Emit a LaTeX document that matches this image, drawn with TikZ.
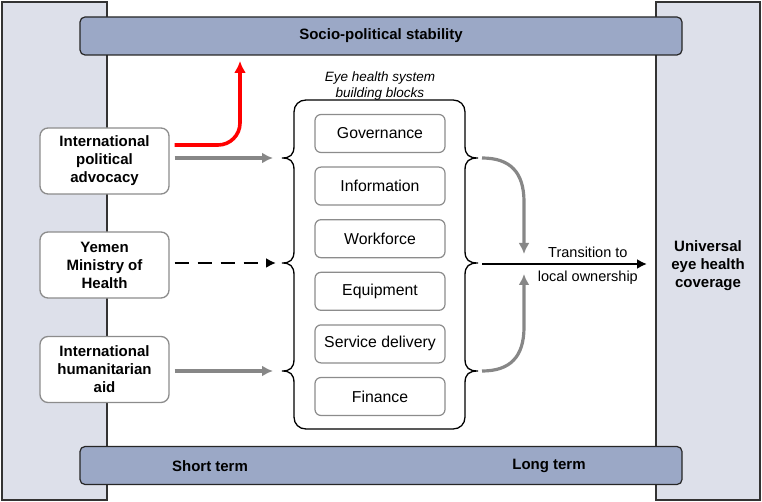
\documentclass[tikz,border=0pt]{standalone}
\usepackage{fontspec}
\setmainfont{Liberation Sans}
\usetikzlibrary{positioning,arrows.meta}
\definecolor{panelgray}{RGB}{221,224,234}
\definecolor{barblue}{RGB}{155,168,198}
\definecolor{boxgray}{RGB}{140,140,140}
\definecolor{arrowgray}{RGB}{135,135,135}
\tikzset{
  panel/.style={draw=black!80, line width=1.2pt, fill=panelgray},
  bar/.style={draw=black!85, line width=1.2pt, fill=barblue, rounded corners=5pt,
    minimum width=602pt, minimum height=38pt, font=\fontsize{15}{18}\selectfont\bfseries},
  actor/.style={draw=boxgray, line width=1.3pt, fill=white, rounded corners=8pt,
    minimum width=129pt, minimum height=66pt, inner sep=0pt, align=center,
    font=\fontsize{15}{18}\selectfont\bfseries},
  block/.style={draw=boxgray, line width=1.2pt, fill=white, rounded corners=6pt,
    minimum width=130pt, minimum height=38pt, inner sep=0pt,
    font=\fontsize{15.8}{18}\selectfont},
  grayarrow/.style={draw=arrowgray, line width=3.2pt, -{Latex[length=11pt,width=11pt]}},
  redarrow/.style={draw=red, line width=3.6pt, rounded corners=22pt, -{Latex[length=12pt,width=12pt]}},
  blackarrow/.style={draw=black, line width=2.8pt, -{Latex[length=10pt,width=10pt]}},
}
\begin{document}
\begin{tikzpicture}[x=1pt,y=-1pt]
  \useasboundingbox (0,0) rectangle (762,502);

  %%%%% side panels and bars %%%%%
  \draw[panel] (2,2) rectangle (107,500);
  \draw[panel] (656,2) rectangle (760,500);
  \node[bar] (stab) at (381,36) {Socio-political stability};
  \node[bar] (term) at (381,465.5) {};
  \node[font=\fontsize{15}{18}\selectfont\bfseries] (short) at (210,466) {Short term};
  \node[font=\fontsize{15}{18}\selectfont\bfseries] (long) at (549,466) {Long term};

  \node[align=center, font=\fontsize{15}{18}\selectfont\bfseries] (uhc) at (708,266)
    {Universal\\eye health\\coverage};

  %%%%% building blocks %%%%%
  \draw[line width=1.3pt] (306,100) -- (453,100) .. controls (460,100) and (465,105) .. (465,112)
    -- (465,146) .. controls (465,155) and (469,158) .. (478,158)
    .. controls (469,158) and (465,161) .. (465,170)
    -- (465,251) .. controls (465,260) and (469,263) .. (478,263)
    .. controls (469,263) and (465,266) .. (465,275)
    -- (465,359) .. controls (465,368) and (469,371) .. (478,371)
    .. controls (469,371) and (465,374) .. (465,383)
    -- (465,417) .. controls (465,424) and (460,429) .. (453,429)
    -- (306,429) .. controls (299,429) and (294,424) .. (294,417)
    -- (294,383) .. controls (294,374) and (290,371) .. (282,371)
    .. controls (290,371) and (294,368) .. (294,359)
    -- (294,275) .. controls (294,266) and (290,263) .. (282,263)
    .. controls (290,263) and (294,260) .. (294,251)
    -- (294,170) .. controls (294,161) and (290,158) .. (282,158)
    .. controls (290,158) and (294,155) .. (294,146)
    -- (294,112) .. controls (294,105) and (299,100) .. (306,100) -- cycle;
  \coordinate (lcusp1) at (282,158);
  \coordinate (lcusp2) at (282,263);
  \coordinate (lcusp3) at (282,371);
  \coordinate (rcusp1) at (478,158);
  \coordinate (rcusp2) at (478,263);
  \coordinate (rcusp3) at (478,371);

  \node[align=center, font=\fontsize{13.5}{16}\selectfont\itshape] (title) at (380,86)
    {Eye health system\\building blocks};

  \node[block] (gov) at (380,133.5) {Governance};
  \node[block, below=13.4pt of gov] (info) {Information};
  \node[block, below=13.4pt of info] (work) {Workforce};
  \node[block, below=13.4pt of work] (equip) {Equipment};
  \node[block, below=13.4pt of equip] (serv) {Service delivery};
  \node[block, below=13.4pt of serv] (fin) {Finance};

  %%%%% actors %%%%%
  \node[actor] (adv) at (104.5,161) {International\\political\\advocacy};
  \node[actor] (moh) at (104.5,265) {Yemen\\Ministry of\\Health};
  \node[actor] (aid) at (104.5,369.5) {International\\humanitarian\\aid};

  %%%%% arrows %%%%%
  \coordinate (redtip) at (240,61);
  \draw[redarrow] ([shift={(5pt,16pt)}]adv.east) -| (redtip);
  \draw[grayarrow, shorten <=5pt, shorten >=9pt] (adv.east |- lcusp1) -- (lcusp1);
  \draw[blackarrow, dash pattern=on 14pt off 9pt, shorten <=5pt, shorten >=6pt] (moh.east |- lcusp2) -- (lcusp2);
  \draw[grayarrow, shorten <=5pt, shorten >=9pt] (aid.east |- lcusp3) -- (lcusp3);

  \coordinate (mergetop) at (524,254);
  \coordinate (mergebot) at (524,274);
  \coordinate (goal) at (647,264);
  \draw[grayarrow, shorten <=4pt] (rcusp1) .. controls (510,158) and (524,172) .. (524,202) -- (mergetop);
  \draw[grayarrow, shorten <=4pt] (rcusp3) .. controls (510,371) and (524,357) .. (524,327) -- (mergebot);
  \draw[blackarrow, shorten <=4pt] (rcusp2 |- goal) -- (goal)
    node[pos=0.65, above=2pt, font=\fontsize{14.5}{17}\selectfont] (trans) {Transition to}
    node[pos=0.65, below=2pt, font=\fontsize{14.5}{17}\selectfont] (local) {local ownership};
\end{tikzpicture}
\end{document}
